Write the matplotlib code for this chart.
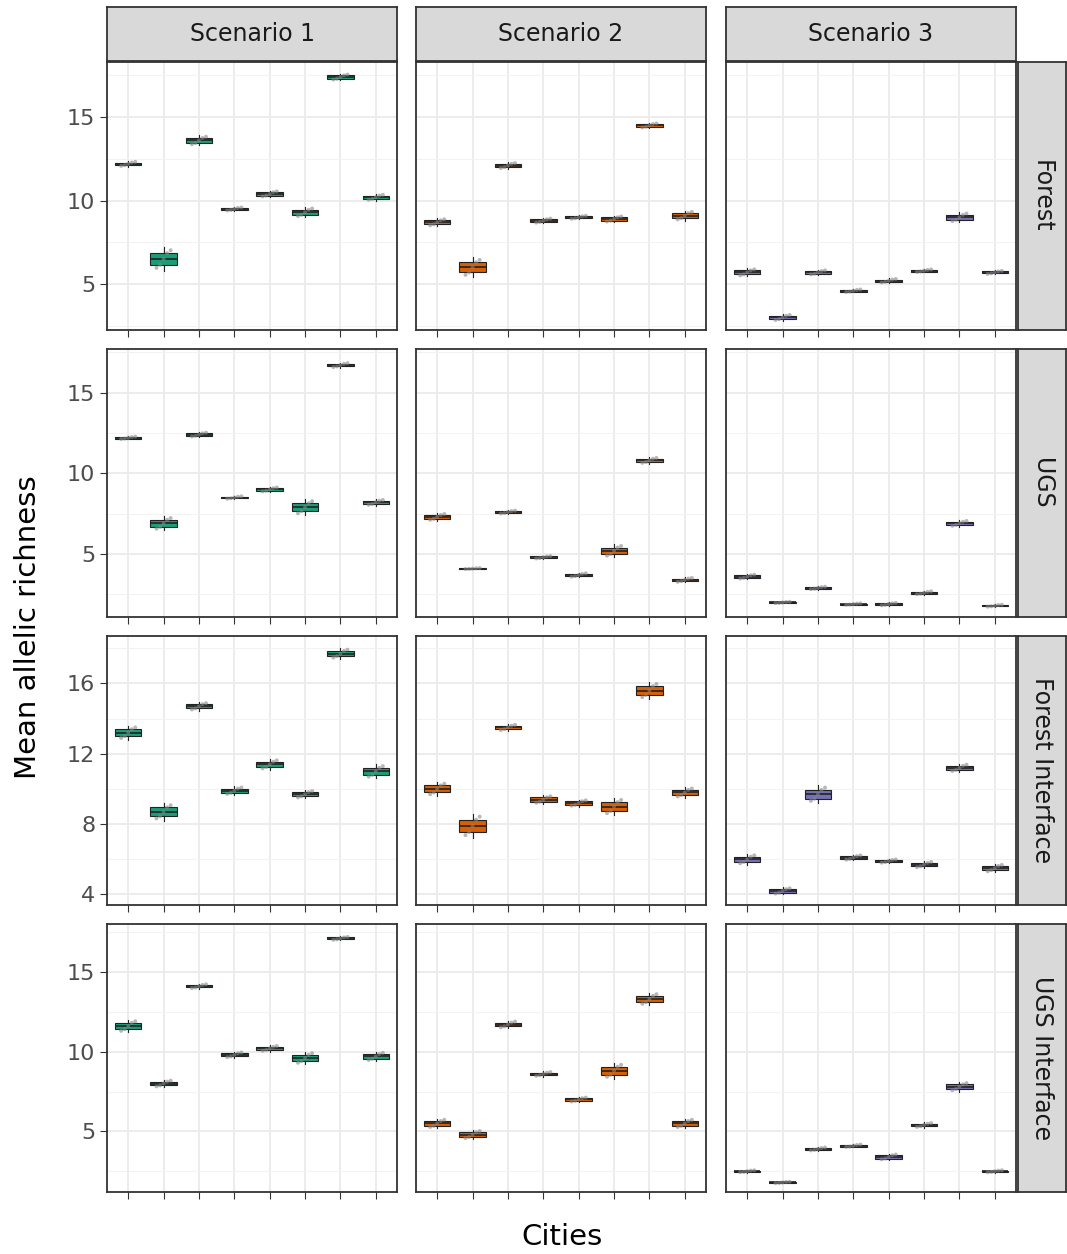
import matplotlib.pyplot as plt
import numpy as np

scenarios = ['Scenario 1', 'Scenario 2', 'Scenario 3']
habitats = ['Forest', 'UGS', 'Forest Interface', 'UGS Interface']
colors = ['#1B9E77', '#D95F02', '#7570B3']

# medians [habitat][scenario][city]
med = [
    [[12.2, 6.5, 13.6, 9.5, 10.4, 9.3, 17.4, 10.2],
     [8.7, 6.0, 12.1, 8.8, 9.0, 8.9, 14.5, 9.1],
     [5.7, 3.0, 5.7, 4.6, 5.2, 5.8, 9.0, 5.7]],
    [[12.2, 6.9, 12.4, 8.5, 9.0, 7.9, 16.7, 8.2],
     [7.3, 4.1, 7.6, 4.8, 3.7, 5.2, 10.8, 3.4],
     [3.6, 2.0, 2.9, 1.9, 1.9, 2.6, 6.9, 1.8]],
    [[13.2, 8.7, 14.7, 9.9, 11.4, 9.7, 17.7, 11.0],
     [10.0, 7.9, 13.5, 9.4, 9.2, 9.0, 15.6, 9.8],
     [6.0, 4.2, 9.7, 6.1, 5.9, 5.7, 11.2, 5.5]],
    [[11.6, 8.0, 14.1, 9.8, 10.2, 9.6, 17.1, 9.7],
     [5.5, 4.8, 11.7, 8.6, 7.0, 8.8, 13.3, 5.5],
     [2.5, 1.8, 3.9, 4.1, 3.4, 5.4, 7.8, 2.5]],
]
# half box heights (IQR/2)
half = [
    [[0.08, 0.35, 0.15, 0.06, 0.1, 0.15, 0.1, 0.1],
     [0.12, 0.3, 0.1, 0.08, 0.06, 0.1, 0.08, 0.15],
     [0.12, 0.1, 0.08, 0.05, 0.07, 0.05, 0.15, 0.06]],
    [[0.05, 0.22, 0.08, 0.05, 0.08, 0.25, 0.08, 0.1],
     [0.12, 0.02, 0.06, 0.05, 0.07, 0.2, 0.1, 0.08],
     [0.08, 0.03, 0.05, 0.03, 0.05, 0.06, 0.1, 0.04]],
    [[0.2, 0.25, 0.12, 0.12, 0.15, 0.12, 0.15, 0.2],
     [0.2, 0.35, 0.1, 0.12, 0.1, 0.25, 0.25, 0.15],
     [0.15, 0.1, 0.25, 0.08, 0.06, 0.1, 0.12, 0.12]],
    [[0.2, 0.12, 0.08, 0.1, 0.1, 0.2, 0.06, 0.15],
     [0.15, 0.15, 0.12, 0.08, 0.08, 0.25, 0.2, 0.15],
     [0.04, 0.03, 0.06, 0.05, 0.1, 0.08, 0.15, 0.04]],
]
ylims = [(2.25, 18.3), (1.1, 17.7), (3.4, 18.7), (1.2, 18.0)]
yticks = [[5, 10, 15], [5, 10, 15], [4, 8, 12, 16], [5, 10, 15]]

W, H = 1067, 1254
fig = plt.figure(figsize=(W / 100, H / 100), dpi=100)
plt.rcParams['font.family'] = 'DejaVu Sans'
xs = [107, 416, 726]
pw = 290
rows = [(62, 330), (349, 617), (636, 905), (924, 1192)]
edge = '#333333'
x = np.arange(1, 9)

for r in range(4):
    top, bot = rows[r]
    for c in range(3):
        ax = fig.add_axes([xs[c] / W, 1 - bot / H, pw / W, (bot - top) / H])
        stats = []
        for i in range(8):
            m, h = med[r][c][i], half[r][c][i]
            stats.append(dict(med=m, q1=m - h, q3=m + h, whislo=m - 2 * h,
                              whishi=m + 2 * h, fliers=[]))
        ax.bxp(stats, positions=x, widths=0.75, patch_artist=True, showfliers=False,
               boxprops=dict(facecolor=colors[c], edgecolor='#222222', linewidth=0.8),
               medianprops=dict(color='#222222', linewidth=1.2),
               whiskerprops=dict(color='#222222', linewidth=0.8),
               capprops=dict(linewidth=0), zorder=3)
        offs = np.array([-0.2, -0.1, 0.0, 0.1, 0.2])
        for i in range(8):
            m, h = med[r][c][i], half[r][c][i]
            ys = np.array([m - 1.5 * h, m - h, m, m + h, m + 1.5 * h])
            ax.scatter(x[i] + offs, ys, s=8, color='#888888', alpha=0.6,
                       edgecolors='none', zorder=4)
        ax.set_xticks(x)
        ax.set_xticklabels([])
        ax.set_yticks(yticks[r])
        step = yticks[r][1] - yticks[r][0]
        ax.set_yticks(np.arange(yticks[r][0] - step / 2, ylims[r][1], step), minor=True)
        ax.set_xlim(0.4, 8.6)
        ax.set_ylim(*ylims[r])
        ax.grid(which='major', color='#EBEBEB', linewidth=1.3, zorder=0)
        ax.grid(which='minor', axis='y', color='#F2F2F2', linewidth=0.7, zorder=0)
        ax.set_axisbelow(True)
        ax.tick_params(axis='y', which='minor', length=0)
        ax.tick_params(which='major', length=5, color=edge, labelsize=16,
                       labelcolor='#4D4D4D')
        if c > 0:
            ax.set_yticklabels([])
            ax.tick_params(axis='y', which='major', length=0)
        for s in ax.spines.values():
            s.set_color(edge)
            s.set_linewidth(1.3)
        if r == 0:
            sax = fig.add_axes([xs[c] / W, 1 - 61 / H, pw / W, 54 / H])
            sax.set_facecolor('#D9D9D9')
            sax.set_xticks([]); sax.set_yticks([])
            for s in sax.spines.values():
                s.set_color(edge); s.set_linewidth(1.3)
            sax.text(0.5, 0.5, scenarios[c], ha='center', va='center', fontsize=17,
                     color='#1A1A1A', transform=sax.transAxes)
    sax = fig.add_axes([1018 / W, 1 - bot / H, 48 / W, (bot - top) / H])
    sax.set_facecolor('#D9D9D9')
    sax.set_xticks([]); sax.set_yticks([])
    for s in sax.spines.values():
        s.set_color(edge); s.set_linewidth(1.3)
    sax.text(0.5, 0.5, habitats[r], ha='center', va='center', fontsize=17,
             rotation=-90, color='#1A1A1A', transform=sax.transAxes)

fig.text(562 / W, 1 - 1237 / H, 'Cities', ha='center', va='center', fontsize=21)
fig.text(28 / W, 1 - 627 / H, 'Mean allelic richness', ha='center', va='center',
         fontsize=21, rotation=90)
fig.savefig('out.png', dpi=100)
